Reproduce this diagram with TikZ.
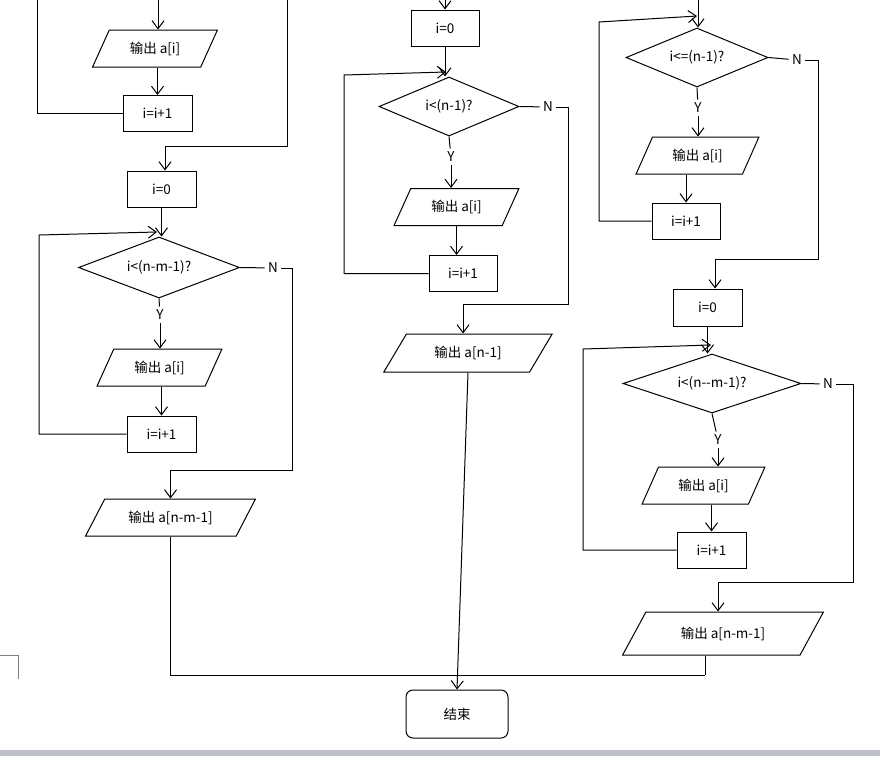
\documentclass[tikz,border=0pt]{standalone}
\usepackage{fontspec}
\setmainfont{Noto Sans CJK SC}
\usepackage{tikz}
\usetikzlibrary{shapes.geometric,arrows.meta}
\definecolor{barcol}{RGB}{190,193,199}

\tikzset{
    proc/.style={draw, rectangle, minimum width=69pt, minimum height=36pt, inner sep=0pt},
    io/.style={draw, trapezium, trapezium left angle=56, trapezium right angle=124,
        trapezium stretches=true, minimum width=125pt, minimum height=37pt, inner sep=0pt},
    iowide/.style={io, trapezium left angle=48, trapezium right angle=132, minimum width=170pt},
    decide/.style={draw, diamond, aspect=2.7, inner sep=0pt, minimum width=161pt, minimum height=61pt},
    lbl/.style={inner sep=3pt},
    arr/.style={-{Straight Barb[length=8pt,width=12pt]}},
}

\begin{document}
\begin{tikzpicture} [x=1pt, y=-1pt, line width=1pt, font=\fontsize{13.5}{16}\selectfont]
    \useasboundingbox (0,0) rectangle (880,756);
    \fill[barcol] (0,750) rectangle (880,756);
    \draw[gray, line width=0.8pt] (0,655) -- (18,655) -- (18,679);

    % left column
    \node[io] (p1) at (155,48.5) {输出 a[i]};
    \node[proc] (b1) at (157.5,113.5) {i=i+1};
    \node[proc] (z1) at (161.5,189) {i=0};
    \node[decide] (d1) at (159,267.5) {i<(n-m-1)?};
    \node[lbl] (n1) at (273,268) {N};
    \node[lbl] (y1) at (160,315) {Y};
    \node[io] (p2) at (159.5,367.5) {输出 a[i]};
    \node[proc] (b2) at (161.5,434) {i=i+1};
    \node[iowide] (p3) at (170.5,517.5) {输出 a[n-m-1]};

    % middle column
    \node[proc, minimum width=68pt] (z2) at (445,28) {i=0};
    \node[decide, minimum width=140pt, minimum height=59pt] (d2) at (449,106.5) {i<(n-1)?};
    \node[lbl] (n2) at (548,107) {N};
    \node[lbl] (y2) at (451,157) {Y};
    \node[io] (p4) at (456.5,207) {输出 a[i]};
    \node[proc, minimum width=68pt] (b3) at (463,273.5) {i=i+1};
    \node[iowide, minimum height=38pt] (p5) at (468,353) {输出 a[n-1]};

    % right column
    \node[decide, minimum width=142pt, minimum height=59pt] (d3) at (697,57.5) {i<=(n-1)?};
    \node[lbl] (n3) at (797,60) {N};
    \node[lbl] (y3) at (698,108) {Y};
    \node[io, minimum width=123pt] (p6) at (697.5,155.5) {输出 a[i]};
    \node[proc, minimum width=68pt] (b4) at (686,221) {i=i+1};
    \node[proc, minimum height=37pt] (z3) at (707.5,307.5) {i=0};
    \node[decide, minimum width=178pt, minimum height=59pt] (d4) at (712,383.5) {i<(n-{}-m-1)?};
    \node[lbl] (n4) at (828,384) {N};
    \node[lbl] (y4) at (718,440) {Y};
    \node[io, minimum width=123pt] (p7) at (703.5,485.5) {输出 a[i]};
    \node[proc] (b5) at (711.5,550) {i=i+1};
    \node[iowide, trapezium left angle=47, trapezium right angle=133, minimum width=201pt, minimum height=43pt] (p8) at (723,633.5) {输出 a[n-m-1]};

    \node[draw, rounded corners=7pt, minimum width=102pt, minimum height=48pt] (end) at (457,714) {结束};

    \coordinate (t1) at (158,0);
    \coordinate (t2) at (445,0);
    \coordinate (t3) at (698,0);
    \coordinate (c1) at (37,0);
    \coordinate (c2) at (287,0);
    \coordinate (c3) at (165,146);
    \coordinate (c4) at (39,235);
    \coordinate (c5) at (157,232);
    \coordinate (c6) at (292,470);
    \coordinate (c7) at (705,675);
    \coordinate (c8) at (344,75);
    \coordinate (c9) at (446,72);
    \coordinate (c10) at (568,304);
    \coordinate (c11) at (463,304);
    \coordinate (c12) at (599,22);
    \coordinate (c13) at (697,16);
    \coordinate (c14) at (818,259);
    \coordinate (c15) at (715,259);
    \coordinate (c16) at (583,349);
    \coordinate (c17) at (711,345);
    \coordinate (c18) at (853,582);
    \coordinate (c19) at (718,582);

    % left column
    \draw[arr] (t1) -- (t1 |- p1.north);
    \draw[arr] (b1.north |- p1.south) -- (b1.north);
    \draw (b1.west) -| (c1);
    \draw[arr] (c2) |- (c3) -- (c3 |- z1.north);
    \draw[arr] (z1.south) -- (z1.south |- d1.north);
    \draw (d1.south) -- (y1);
    \draw[arr] (y1) -- (y1 |- p2.north);
    \draw[arr] (b2.north |- p2.south) -- (b2.north);
    \draw[arr] (b2.west) -| (c4) -- (c5);
    \draw (d1.east) -- (n1);
    \draw[arr] (n1.east) -| (c6) -| (p3.north);
    \draw (p3.south) |- (c7);
    \draw (c7 |- p8.south) -- (c7);

    % middle column
    \draw[arr] (t2) -- (t2 |- z2.north);
    \draw[arr] (z2.south) -- (z2.south |- d2.north);
    \draw (d2.south) -- (y2);
    \draw[arr] (y2) -- (y2 |- p4.north);
    \draw[arr] (p4.south) -- (p4.south |- b3.north);
    \draw[arr] (b3.west) -| (c8) -- (c9);
    \draw (d2.east) -- (n2);
    \draw[arr] (n2.east) -| (c10) -- (c11) -- (c11 |- p5.north);
    \draw[arr] (p5.south) -- (end.north);

    % right column
    \draw[arr] (t3) -- (t3 |- d3.north);
    \draw (d3.south) -- (y3);
    \draw[arr] (y3) -- (y3 |- p6.north);
    \draw[arr] (b4.north |- p6.south) -- (b4.north);
    \draw[arr] (b4.west) -| (c12) -- (c13);
    \draw (d3.east) -- (n3);
    \draw[arr] (n3.east) -| (c14) -- (c15) -- (c15 |- z3.north);
    \draw[arr] (z3.south) -- (z3.south |- d4.north);
    \draw (d4.south) -- (y4);
    \draw[arr] (y4) -- (y4 |- p7.north);
    \draw[arr] (b5.north |- p7.south) -- (b5.north);
    \draw[arr] (b5.west) -| (c16) -- (c17);
    \draw (d4.east) -- (n4);
    \draw[arr] (n4.east) -| (c18) -- (c19) -- (c19 |- p8.north);

\end{tikzpicture}
\end{document}
